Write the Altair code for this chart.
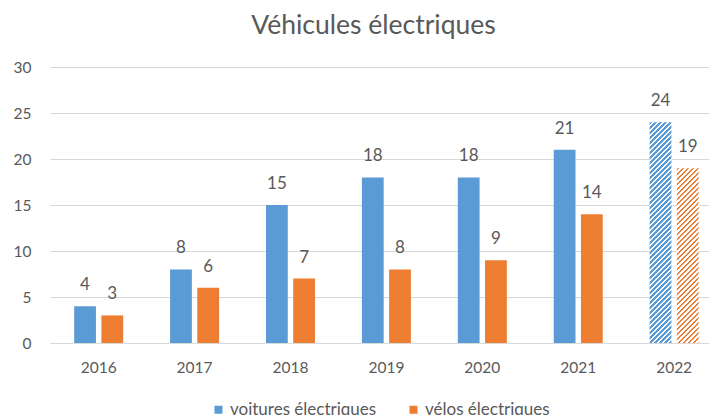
import math
import altair as alt
import pandas as pd

# ---- data ----
annees = ["2016", "2017", "2018", "2019", "2020", "2021", "2022"]
series = ["voitures électriques", "vélos électriques"]
voitures = [4, 8, 15, 18, 18, 21, 24]
velos = [3, 6, 7, 8, 9, 14, 19]
annees_prevision = ["2022"]  # hatched (forecast) bars

# ---- styling ----
BLUE = "#5B9BD5"
ORANGE = "#ED7D31"
GREY = "#595959"
GRID = "#D9D9D9"
FONT = "Lato"
W, H = 659, 276
Y_MAX = 30
PAD_IN, PAD_OUT, ALIGN = 0.489, 0.18, 0.70
OFF_PAD_IN = 0.2
HATCH_PERIOD = 5.0

_step = W / (len(annees) - PAD_IN + 2 * PAD_OUT)
_band = _step * (1 - PAD_IN)
BAR_W = _band / (len(series) - OFF_PAD_IN) * (1 - OFF_PAD_IN)

rows = []
for i, a in enumerate(annees):
    rows.append({"annee": a, "serie": series[0], "valeur": voitures[i]})
    rows.append({"annee": a, "serie": series[1], "valeur": velos[i]})
df = pd.DataFrame(rows)


def hatch(color, value):
    """Diagonal '/' stripes built as a hard-stop linear gradient."""
    h = value / Y_MAX * H
    w = BAR_W
    r = w / h
    s = (r + 1) / (r * r + 1)
    n = math.ceil((w + h) / HATCH_PERIOD)
    f = n * HATCH_PERIOD / (w + h)
    stops = []
    for k in range(n):
        a = k / n
        b = (k + 0.55) / n
        c = (k + 1) / n
        stops += [
            {"offset": a, "color": color},
            {"offset": b, "color": color},
            {"offset": b, "color": "#FFFFFF"},
            {"offset": c, "color": "#FFFFFF"},
        ]
    return {"gradient": "linear", "x1": 0, "y1": 0, "x2": s * r * f, "y2": s * f, "stops": stops}


x_enc = alt.X(
    "annee:N",
    sort=annees,
    title=None,
    scale=alt.Scale(paddingInner=PAD_IN, paddingOuter=PAD_OUT, align=ALIGN),
    axis=alt.Axis(
        labelAngle=0, ticks=False, domain=True, domainColor=GRID, domainWidth=1,
        labelColor=GREY, labelFontSize=15.5, labelFont=FONT, labelPadding=17, grid=False,
    ),
)
xo_enc = alt.XOffset("serie:N", sort=series, scale=alt.Scale(domain=series, paddingInner=OFF_PAD_IN, paddingOuter=0))
y_enc = alt.Y(
    "valeur:Q",
    title=None,
    scale=alt.Scale(domain=[0, Y_MAX], nice=False),
    axis=alt.Axis(
        values=[0, 5, 10, 15, 20, 25, 30], ticks=False, domain=False, grid=True,
        gridColor=GRID, gridWidth=1, labelColor=GREY, labelFontSize=15.5,
        labelFont=FONT, labelPadding=19,
    ),
)

base = alt.Chart(df).encode(x=x_enc, xOffset=xo_enc, y=y_enc)

bars = base.mark_bar().encode(
    color=alt.Color(
        "serie:N",
        sort=series,
        scale=alt.Scale(domain=series, range=[BLUE, ORANGE]),
        legend=alt.Legend(
            title=None, orient="none", direction="horizontal", legendX=160, legendY=334,
            symbolType="square", symbolSize=64, symbolStrokeWidth=0,
            labelFontSize=17, labelColor=GREY, labelFont=FONT,
            columnPadding=28, labelOffset=3,
        ),
    )
).transform_filter(~alt.FieldOneOfPredicate(field="annee", oneOf=annees_prevision))

hatch_layers = []
for i, a in enumerate(annees):
    if a not in annees_prevision:
        continue
    for s_name, col, vals in [(series[0], BLUE, voitures), (series[1], ORANGE, velos)]:
        hatch_layers.append(
            base.mark_bar(fill=hatch(col, vals[i]))
            .transform_filter((alt.datum.annee == a) & (alt.datum.serie == s_name))
        )

labels = base.mark_text(dy=-21, fontSize=17, color=GREY, font=FONT).encode(text="valeur:Q")

chart = alt.layer(bars, *hatch_layers, labels).properties(
    width=W,
    height=H,
    title=alt.Title(
        "Véhicules électriques", fontSize=26.5, color=GREY, font=FONT, fontWeight="normal",
        frame="group", anchor="middle", offset=21, dx=-6,
    ),
    autosize=alt.AutoSizeParams(type="none"),
    padding={"left": 42, "top": 59, "right": 0, "bottom": 72},
).configure_view(stroke=None)

chart.save("out.html", embed_options={"renderer": "svg", "actions": False})
